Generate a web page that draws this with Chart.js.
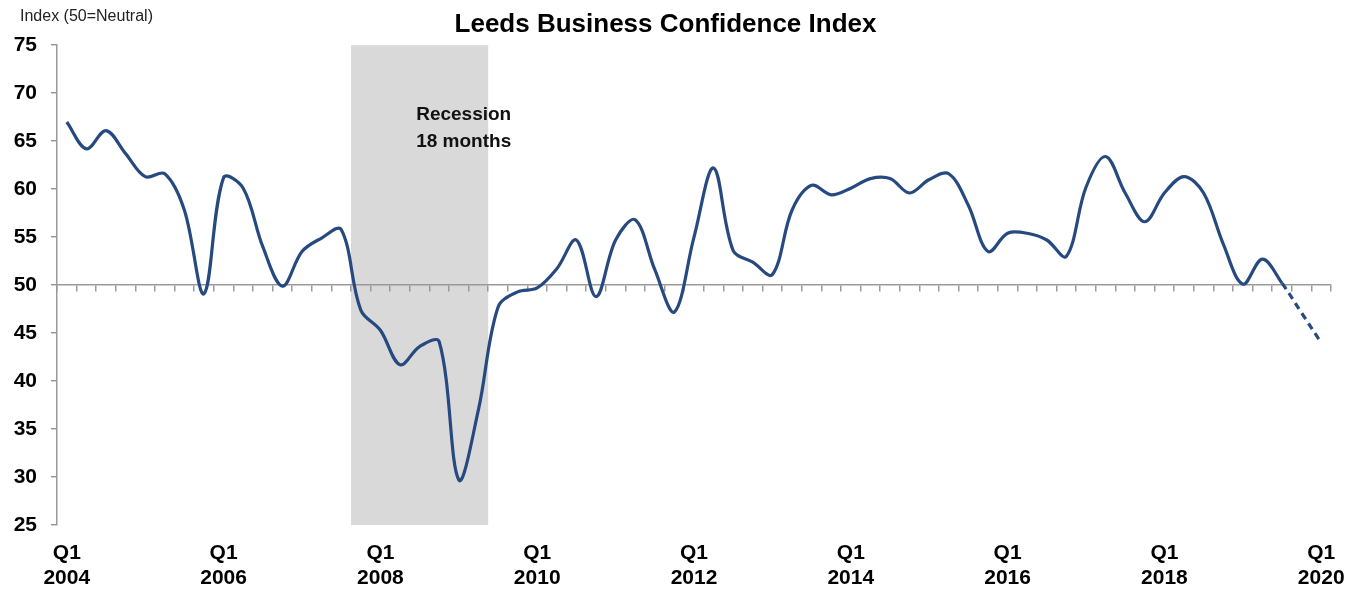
<!DOCTYPE html>
<html>
<head>
<meta charset="utf-8">
<script src="https://cdn.jsdelivr.net/npm/chart.js@4/dist/chart.umd.min.js"></script>
<style>
  body { margin: 0; background: #fff; }
  #wrap { width: 1362px; height: 590px; }
</style>
</head>
<body>
<div id="wrap"><canvas id="confidenceChart"></canvas></div>
<script>
// quarterly Leeds business confidence index, Q1 2004 .. Q1 2020
const years = [2004, 2005, 2006, 2007, 2008, 2009, 2010, 2011, 2012, 2013, 2014, 2015, 2016, 2017, 2018, 2019, 2020];
const quarters = [];
years.forEach(y => ['Q1', 'Q2', 'Q3', 'Q4'].forEach(q => quarters.push(q + ' ' + y)));
quarters.length = 65; // ends at Q1 2020

const tickYears = ['2004', '2006', '2008', '2010', '2012', '2014', '2016', '2018', '2020'];
const yTicks = [25, 30, 35, 40, 45, 50, 55, 60, 65, 70, 75];

const confidence = [
    67.0, 64.2, 66.1, 63.7, 61.3, 61.6, 57.8, 49.1,   // 2004-05
    61.2, 60.1, 54.0, 49.9, 53.5, 54.9, 55.8, 47.4,   // 2006-07
    45.3, 41.7, 43.6, 44.1, 29.7, 37.0, 47.7, 49.3,   // 2008-09
    49.7, 51.7, 54.7, 48.8, 54.7, 56.8, 51.6, 47.2,   // 2010-11
    55.0, 62.2, 53.6, 52.4, 51.1, 57.8, 60.4, 59.4,   // 2012-13
    60.1, 61.1, 61.1, 59.6, 61.0, 61.6, 58.3, 53.5,   // 2014-15
    55.4, 55.4, 54.7, 53.0, 60.2, 63.4, 59.6, 56.6,   // 2016-17
    59.6, 61.3, 59.6, 54.3, 50.1, 52.7, 50.2, 47.1,   // 2018-19
    44.0                                              // 2020
];
const forecastFrom = 62;                 // dashed from Q3 2019 onwards
const recession = ['Q4 2007', 'Q2 2009'];
const recessionText = ['Recession', '18 months'];

const lineColor = '#264a80';
const axisGrey = '#9a9a9a';

const extras = {
    id: 'extras',
    beforeDraw(chart) {
        const { ctx, chartArea, scales } = chart;
        const x = scales.x, y = scales.y;
        const i0 = quarters.indexOf(recession[0]);
        const i1 = quarters.indexOf(recession[1]);
        const left = x.getPixelForValue(i0 - 0.5);
        const right = x.getPixelForValue(i1 + 0.5);
        ctx.save();
        ctx.fillStyle = '#d9d9d9';
        ctx.fillRect(left, chartArea.top, right - left, chartArea.bottom - chartArea.top);

        ctx.fillStyle = '#111';
        ctx.font = 'bold 19px "Liberation Sans", Arial, sans-serif';
        ctx.textAlign = 'center';
        ctx.textBaseline = 'middle';
        const tx = x.getPixelForValue(20.25);
        ctx.fillText(recessionText[0], tx, y.getPixelForValue(67.7));
        ctx.fillText(recessionText[1], tx, y.getPixelForValue(64.9));
        ctx.restore();
    },
    afterDraw(chart) {
        const ctx = chart.ctx;
        ctx.save();
        ctx.fillStyle = '#222';
        ctx.font = '16px "Liberation Sans Narrow", "Liberation Sans", Arial, sans-serif';
        ctx.textAlign = 'left';
        ctx.textBaseline = 'middle';
        ctx.fillText('Index (50=Neutral)', 20, 17);
        ctx.restore();
    }
};

const ctx = document.getElementById('confidenceChart').getContext('2d');

new Chart(ctx, {
    type: 'line',
    data: {
        labels: quarters,
        datasets: [{
            label: 'Leeds Business Confidence Index',
            data: confidence,
            borderColor: lineColor,
            borderWidth: 3.2,
            fill: false,
            tension: 0.35,
            pointRadius: 0,
            pointHoverRadius: 0,
            segment: {
                borderDash: c => c.p0DataIndex >= forecastFrom ? [7, 5] : undefined
            }
        }]
    },
    options: {
        responsive: true,
        maintainAspectRatio: false,
        animation: false,
        layout: { padding: { left: 0, right: 31, top: 0, bottom: 0 } },
        scales: {
            x: {
                offset: true,
                grid: { display: false },
                border: { display: false },
                ticks: {
                    autoSkip: false,
                    maxRotation: 0,
                    padding: 7,
                    color: '#000',
                    font: { size: 21, weight: 'bold', family: '"Liberation Sans", Arial, sans-serif', lineHeight: 1.22 },
                    callback: (v, i) => i % 8 === 0 ? ['Q1', tickYears[i / 8]] : ''
                },
                afterFit: s => { s.height = 65; }
            },
            x2: {
                type: 'category',
                axis: 'x',
                position: { y: 50 },
                offset: true,
                grid: {
                    drawOnChartArea: false,
                    offset: true,
                    color: axisGrey,
                    tickLength: 6,
                    lineWidth: 1.5
                },
                border: { color: axisGrey, width: 1.5 },
                ticks: { display: false }
            },
            y: {
                min: 25,
                max: 75,
                afterBuildTicks: s => { s.ticks = yTicks.map(v => ({ value: v })); },
                grid: {
                    drawOnChartArea: false,
                    color: axisGrey,
                    tickLength: 6,
                    lineWidth: 1.5
                },
                border: { color: axisGrey, width: 1.5 },
                ticks: {
                    padding: 14,
                    color: '#000',
                    font: { size: 21, weight: 'bold', family: '"Liberation Sans", Arial, sans-serif' }
                },
                afterFit: s => { s.width = 57; }
            }
        },
        plugins: {
            legend: { display: false },
            tooltip: { enabled: false },
            title: {
                display: true,
                text: 'Leeds Business Confidence Index',
                color: '#000',
                font: { size: 26, weight: 'bold', family: '"Liberation Sans", Arial, sans-serif', lineHeight: 1.2 },
                padding: { top: 9, bottom: 5 }
            }
        }
    },
    plugins: [extras]
});
</script>
</body>
</html>
